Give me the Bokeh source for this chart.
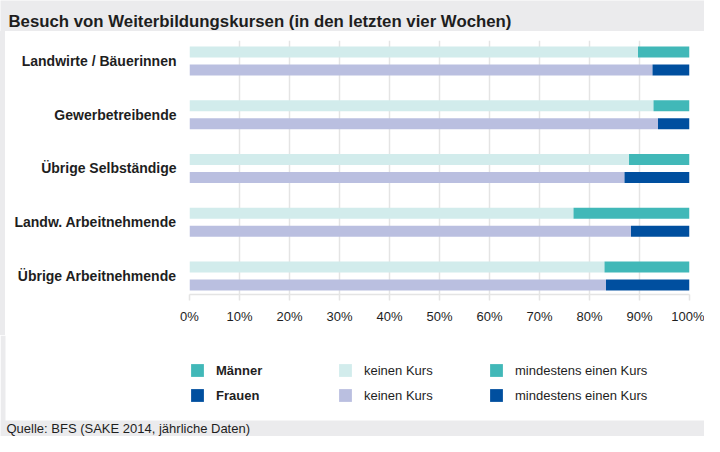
from bokeh.plotting import figure
from bokeh.models import (ColumnDataSource, Range1d, FixedTicker, PrintfTickFormatter,
                          Legend, LegendItem, Label, BoxAnnotation, Spacer)
from bokeh.layouts import column, row
from bokeh.embed import file_html
from bokeh.resources import INLINE

# ---- data ----
categories = ["Landwirte / Bäuerinnen", "Gewerbetreibende", "Übrige Selbständige",
              "Landw. Arbeitnehmende", "Übrige Arbeitnehmende"]
men_none = [89.7, 92.8, 87.9, 76.8, 83.0]      # Männer: keinen Kurs (%)
men_some = [10.3, 7.2, 12.1, 23.2, 17.0]       # Männer: mindestens einen Kurs (%)
women_none = [92.6, 93.7, 87.0, 88.3, 83.3]    # Frauen: keinen Kurs (%)
women_some = [7.4, 6.3, 13.0, 11.7, 16.7]      # Frauen: mindestens einen Kurs (%)
x_ticks = [0, 10, 20, 30, 40, 50, 60, 70, 80, 90, 100]

title_text = "Besuch von Weiterbildungskursen (in den letzten vier Wochen)"
source_text = "Quelle: BFS (SAKE 2014, jährliche Daten)"
sex_labels = ["Männer", "Frauen"]
course_labels = ["keinen Kurs", "mindestens einen Kurs"]

# ---- style ----
FONT = "Liberation Sans"
TXT = "#1e1e1e"
C_MEN_LIGHT = "#d2ecec"
C_MEN_DARK = "#41b8b8"
C_WOM_LIGHT = "#babfe0"
C_WOM_DARK = "#004f9f"
GRID = "#e4e4e4"
BG = "#ebebed"
W = 704

# ---------------- title strip ----------------
pt = figure(width=W, height=31, output_backend="svg", toolbar_location=None,
            x_range=Range1d(0, W), y_range=Range1d(31, 0),
            x_axis_type=None, y_axis_type=None, min_border=0)
pt.background_fill_color = BG
pt.border_fill_color = BG
pt.outline_line_color = None
pt.grid.visible = False
pt.add_layout(Label(x=8, y=21, text=title_text, text_font=FONT, text_font_size="16.8px",
                    text_font_style="bold", text_color=TXT, text_baseline="alphabetic"))

# ---------------- main chart ----------------
n = len(categories)
pos = list(range(n))
off = 9 / 53.75
bar_h = 11 / 53.75

men_src = ColumnDataSource(dict(
    y=[q - off for q in pos],
    none=men_none,
    total=[a + b for a, b in zip(men_none, men_some)],
    zero=[0] * n))
wom_src = ColumnDataSource(dict(
    y=[q + off for q in pos],
    none=women_none,
    total=[a + b for a, b in zip(women_none, women_some)],
    zero=[0] * n))

p = figure(width=W - 5, height=304, output_backend="svg", toolbar_location=None,
           x_range=Range1d(0, 100), y_range=Range1d(4.344, -0.381),
           min_border_left=184, min_border_right=15, min_border_top=9,
           min_border_bottom=41)
p.border_fill_color = "white"
p.background_fill_color = "white"
p.outline_line_color = None

p.hbar(y="y", left="zero", right="none", height=bar_h, source=men_src,
       fill_color=C_MEN_LIGHT, line_color=None)
p.hbar(y="y", left="none", right="total", height=bar_h, source=men_src,
       fill_color=C_MEN_DARK, line_color=None)
p.hbar(y="y", left="zero", right="none", height=bar_h, source=wom_src,
       fill_color=C_WOM_LIGHT, line_color=None)
p.hbar(y="y", left="none", right="total", height=bar_h, source=wom_src,
       fill_color=C_WOM_DARK, line_color=None)

p.xaxis.ticker = FixedTicker(ticks=x_ticks)
p.xaxis.formatter = PrintfTickFormatter(format="%d%%")
p.xaxis.axis_line_color = GRID
p.xaxis.axis_line_width = 1.5
p.xaxis.major_tick_line_color = GRID
p.xaxis.major_tick_line_width = 1.5
p.xaxis.major_tick_out = 6
p.xaxis.major_tick_in = 0
p.xaxis.minor_tick_line_color = None
p.xaxis.major_label_standoff = 8
p.xaxis.major_label_text_font = FONT
p.xaxis.major_label_text_font_size = "13px"
p.xaxis.major_label_text_color = TXT

p.yaxis.ticker = FixedTicker(ticks=pos)
p.yaxis.major_label_overrides = {i: c for i, c in enumerate(categories)}
p.yaxis.axis_line_color = None
p.yaxis.major_tick_line_color = None
p.yaxis.minor_tick_line_color = None
p.yaxis.major_label_standoff = 7
p.yaxis.major_label_text_font = FONT
p.yaxis.major_label_text_font_size = "14px"
p.yaxis.major_label_text_font_style = "bold"
p.yaxis.major_label_text_color = TXT

p.xgrid.grid_line_color = GRID
p.xgrid.grid_line_width = 1.5
p.xgrid.ticker = FixedTicker(ticks=x_ticks)
p.ygrid.grid_line_color = None

left_strip = Spacer(width=5, height=304, styles={"background-color": BG})

# ---------------- legend + source ----------------
HB = 101
pb = figure(width=W, height=HB, output_backend="svg", toolbar_location=None,
            x_range=Range1d(0, W), y_range=Range1d(HB, 0),
            x_axis_type=None, y_axis_type=None, min_border=0)
pb.background_fill_color = "white"
pb.border_fill_color = "white"
pb.outline_line_color = None
pb.grid.visible = False
pb.add_layout(BoxAnnotation(left=0, right=5, top=0, bottom=HB, fill_color=BG,
                            fill_alpha=1, line_color=None, level="underlay"))
pb.add_layout(BoxAnnotation(left=0, right=W, top=85, bottom=HB, fill_color=BG,
                            fill_alpha=1, line_color=None, level="underlay"))

nan = float("nan")
def proxy(color):
    # legend-only renderer (no visible mark: NaN data)
    return pb.hbar(y="y", left="left", right="right", height=1,
                   source=ColumnDataSource(dict(y=[nan], left=[nan], right=[nan])),
                   fill_color=color, line_color=None)

g_md, g_wd = proxy(C_MEN_DARK), proxy(C_WOM_DARK)
g_ml, g_wl = proxy(C_MEN_LIGHT), proxy(C_WOM_LIGHT)

def make_legend(items, x, bold=False):
    lg = Legend(items=items, location=(x, 33), orientation="vertical",
                glyph_width=16, glyph_height=16, label_height=16, spacing=9,
                label_standoff=11, padding=0, margin=0,
                border_line_color=None, background_fill_alpha=0,
                label_text_font=FONT, label_text_font_size="13px",
                label_text_color=TXT,
                label_text_font_style="bold" if bold else "normal")
    pb.add_layout(lg, "center")

make_legend([LegendItem(label=sex_labels[0], renderers=[g_md]),
             LegendItem(label=sex_labels[1], renderers=[g_wd])], 189, bold=True)
make_legend([LegendItem(label=course_labels[0], renderers=[g_ml]),
             LegendItem(label=course_labels[0], renderers=[g_wl])], 337)
make_legend([LegendItem(label=course_labels[1], renderers=[g_md]),
             LegendItem(label=course_labels[1], renderers=[g_wd])], 488)

pb.add_layout(Label(x=6, y=93, text=source_text, text_font=FONT, text_font_size="13px",
                    text_color=TXT, text_baseline="middle"))

layout = column(pt, row(left_strip, p, spacing=0), pb, spacing=0)

open("out.html", "w").write(file_html(layout, INLINE))
